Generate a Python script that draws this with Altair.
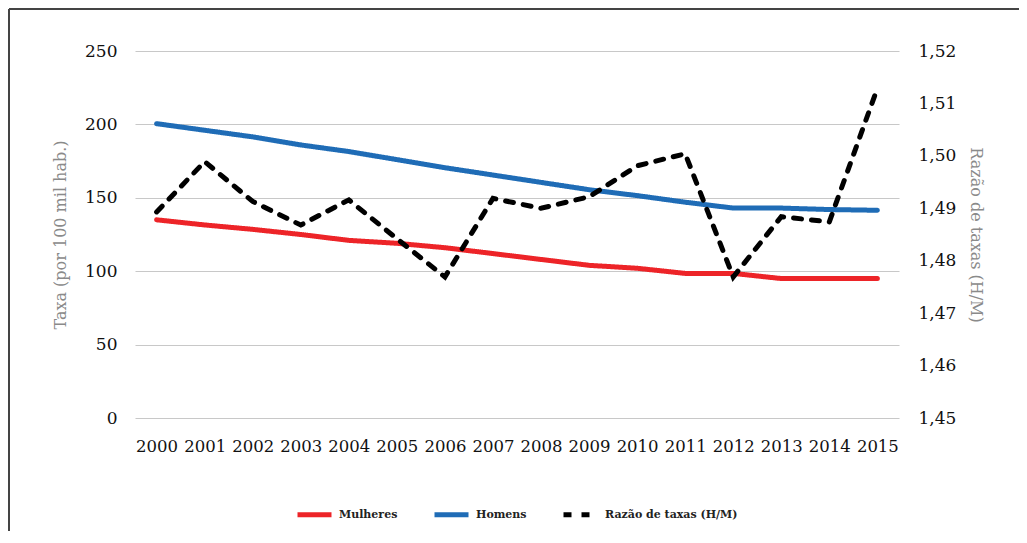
import altair as alt
import pandas as pd

years = [str(y) for y in range(2000, 2016)]
mulheres = [135, 131.5, 128.5, 125, 121, 119, 116, 112, 108, 104, 102, 98.5, 98.5, 95, 95, 95]
homens = [200.5, 196, 191.5, 186, 181.5, 176, 170.5, 165.5, 160.5, 155.5, 151.5, 147, 143, 143, 142, 141.5]
razao = [1.4893, 1.4989, 1.4913, 1.4868, 1.4916, 1.4842, 1.4769, 1.4919,
         1.4900, 1.4922, 1.4981, 1.5004, 1.4769, 1.4884, 1.4874, 1.5129]

series = ["Mulheres", "Homens", "Razão de taxas (H/M)"]
colors = ["#ED2428", "#1F6CB6", "#000000"]
dashes = [[1, 0], [1, 0], [8, 10]]
left_ticks = [0, 50, 100, 150, 200, 250]
right_ticks = [1.45, 1.46, 1.47, 1.48, 1.49, 1.50, 1.51, 1.52]

rate_df = pd.DataFrame({
    "ano": years * 2,
    "valor": mulheres + homens,
    "serie": ["Mulheres"] * len(years) + ["Homens"] * len(years),
})
ratio_df = pd.DataFrame({
    "ano": years,
    "valor": razao,
    "serie": [series[2]] * len(years),
})

FONT = "DejaVu Serif"

legend_kw = dict(
    title=None, orient="none", direction="horizontal",
    legendX=160, legendY=444,
    symbolType="stroke", symbolStrokeWidth=5, symbolSize=1156,
    labelFont=FONT, labelFontSize=11, labelFontWeight="bold",
    labelColor="#222222", columnPadding=26, labelOffset=5,
)
color_enc = alt.Color("serie:N", scale=alt.Scale(domain=series, range=colors),
                      legend=alt.Legend(**legend_kw))
dash_enc = alt.StrokeDash("serie:N", scale=alt.Scale(domain=series, range=dashes),
                          legend=alt.Legend(**legend_kw))

x_enc = alt.X(
    "ano:O",
    sort=years,
    scale=alt.Scale(type="point", padding=0.45),
    axis=alt.Axis(title=None, labelAngle=0, ticks=False, domain=False,
                  labelPadding=20, labelFontSize=16.5),
)

rates = alt.Chart(rate_df).mark_line(strokeWidth=5, strokeCap="round").encode(
    x=x_enc,
    y=alt.Y(
        "valor:Q",
        scale=alt.Scale(domain=[0, 250], nice=False, zero=True),
        axis=alt.Axis(
            values=left_ticks, grid=True, gridColor="#c8c8c8", gridWidth=1.2,
            domain=False, ticks=False, labelPadding=18, labelFontSize=17,
            title="Taxa (por 100 mil hab.)", titleColor="#8a8a8a",
            titleFontWeight="normal", titleFontSize=16, titleFont=FONT,
            titlePadding=16,
        ),
    ),
    color=color_enc,
    strokeDash=dash_enc,
)

ratio = alt.Chart(ratio_df).mark_line(strokeWidth=5, strokeCap="round").encode(
    x=x_enc,
    y=alt.Y(
        "valor:Q",
        scale=alt.Scale(domain=[1.45, 1.52], nice=False, zero=False),
        axis=alt.Axis(
            orient="right", values=right_ticks, grid=False, domain=False,
            ticks=False, labelPadding=19, labelFontSize=17,
            labelExpr="replace(format(datum.value, '.2f'), '.', ',')",
            title="Razão de taxas (H/M)", titleColor="#8a8a8a",
            titleFontWeight="normal", titleFontSize=16, titleFont=FONT,
            titlePadding=12,
        ),
    ),
    color=color_enc,
    strokeDash=dash_enc,
)

frame_df = pd.DataFrame({"k": [0]})
frame_left = alt.Chart(frame_df).mark_rule(color="#444444", strokeWidth=2).encode(
    x=alt.value(-126), y=alt.value(-42), y2=alt.value(480)
)
frame_top = alt.Chart(frame_df).mark_rule(color="#444444", strokeWidth=2).encode(
    x=alt.value(-126), x2=alt.value(900), y=alt.value(-42)
)

chart = alt.layer(rates, ratio, frame_left, frame_top).resolve_scale(
    y="independent"
).properties(
    width=764, height=367,
    autosize=alt.AutoSizeParams(type="none"),
    padding={"left": 127, "top": 43, "right": 120, "bottom": 117},
).configure_view(stroke=None).configure_axis(
    labelFont=FONT, labelColor="#111111", titleFont=FONT
)

chart.save("out.html", embed_options={"renderer": "svg", "actions": False})
